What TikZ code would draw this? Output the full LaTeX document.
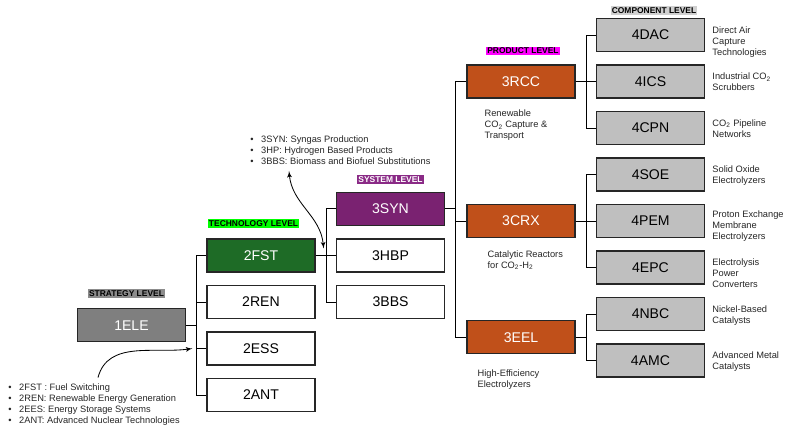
\documentclass[tikz,border=0pt]{standalone}
\usepackage{fontspec}
\setmainfont{Liberation Sans}
\usetikzlibrary{arrows,positioning,calc}

\definecolor{elegray}{HTML}{7F7F7F}
\definecolor{fstgreen}{HTML}{1E6B26}
\definecolor{synpurple}{HTML}{7A2271}
\definecolor{prodorange}{HTML}{C0501A}
\definecolor{compgray}{HTML}{BFBFBF}
\definecolor{stratlbl}{HTML}{8C8C8C}
\definecolor{techlbl}{HTML}{00FF00}
\definecolor{syslbl}{HTML}{8A2A86}
\definecolor{prodlbl}{HTML}{FF00FF}
\definecolor{complbl}{HTML}{D0D0D0}

\tikzset{
  basebox/.style={draw=black!85,line width=0.9pt,minimum width=27mm,
    minimum height=8.25mm,inner sep=0pt,font=\fontsize{10}{12}\selectfont},
  elebox/.style={basebox,fill=elegray,text=white},
  techbox/.style={basebox,fill=white},
  prodbox/.style={basebox,fill=prodorange,text=white},
  compbox/.style={basebox,fill=compgray},
  lvl/.style={font=\fontsize{6}{7}\selectfont\bfseries,inner sep=0.9pt},
  desc/.style={font=\fontsize{6.6}{7.8}\selectfont,align=left,inner sep=0pt,
    anchor=north west,text=black!85},
  link/.style={draw,line width=0.7pt}
}
\newcommand{\bul}{\makebox[7.8pt][l]{\textbullet}}

\begin{document}
\begin{tikzpicture}[x=0.025cm,y=-0.025cm,>=latex',node distance=1.1625cm and 3.2375cm,on grid]
  \useasboundingbox (0,0) rectangle (800,431);
  % strategy level
  \node[elebox] (ele) at (131.5,325.25) {1ELE};
  % technology level
  \node[techbox,fill=fstgreen,text=white] (fst) at (261,255.5) {2FST};
  \node[techbox] (ren) [below=of fst] {2REN};
  \node[techbox] (ess) [below=of ren] {2ESS};
  \node[techbox] (ant) [below=of ess] {2ANT};
  % system level
  \node[techbox] (hbp) [right=of fst] {3HBP};
  \node[techbox,fill=synpurple,text=white] (syn) [above=of hbp] {3SYN};
  \node[techbox] (bbs) [below=of hbp] {3BBS};
  % component level
  \node[compbox] (dac) at (650.5,35) {4DAC};
  \node[compbox] (ics) [below=of dac] {4ICS};
  \node[compbox] (cpn) [below=of ics] {4CPN};
  \node[compbox] (soe) [below=of cpn] {4SOE};
  \node[compbox] (pem) [below=of soe] {4PEM};
  \node[compbox] (epc) [below=of pem] {4EPC};
  \node[compbox] (nbc) [below=of epc] {4NBC};
  \node[compbox] (amc) [below=of nbc] {4AMC};
  % product level
  \node[prodbox] (rcc) [left=of ics] {3RCC};
  \node[prodbox] (crx) [left=of pem] {3CRX};
  \node[prodbox] (eel) at ($(nbc)!0.5!(amc)+(-129.5,0)$) {3EEL};

  % tree connectors
  \foreach \c in {fst,ren,ess,ant} \draw[link] (ele.east) -- ++(10.5,0) |- (\c.west);
  \foreach \c in {syn,hbp,bbs} \draw[link] (fst.east) -- ++(10.5,0) |- (\c.west);
  \foreach \c in {rcc,crx,eel} \draw[link] (syn.east) -- ++(10.5,0) |- (\c.west);
  \foreach \c in {dac,ics,cpn} \draw[link] (rcc.east) -- ++(10.5,0) |- (\c.west);
  \foreach \c in {soe,pem,epc} \draw[link] (crx.east) -- ++(10.5,0) |- (\c.west);
  \foreach \c in {nbc,amc} \draw[link] (eel.east) -- ++(10.5,0) |- (\c.west);

  % level labels
  \node[lvl,fill=stratlbl] (strat-lbl) at ($(ele.north)+(-5,-14.5)$) {STRATEGY LEVEL};
  \node[lvl,fill=techlbl] (tech-lbl) at ($(fst.north)+(-7.5,-15)$) {TECHNOLOGY LEVEL};
  \node[lvl,fill=syslbl,text=white] (sys-lbl) at ($(syn.north)+(0,-12.5)$) {SYSTEM LEVEL};
  \node[lvl,fill=prodlbl] (prod-lbl) at ($(rcc.north)+(2,-13.5)$) {PRODUCT LEVEL};
  \node[lvl,fill=complbl] (comp-lbl) at ($(dac.north)+(3.5,-7.5)$) {COMPONENT LEVEL};

  % component descriptions
  \node[desc] (dac-txt) at ($(dac.north east)+(7,8.5)$) {Direct Air\\Capture\\Technologies};
  \node[desc] (ics-txt) at ($(ics.north east)+(7,8.5)$) {Industrial CO\textsubscript{2}\\Scrubbers};
  \node[desc] (cpn-txt) at ($(cpn.north east)+(7,8.5)$) {CO\textsubscript{2} Pipeline\\Networks};
  \node[desc] (soe-txt) at ($(soe.north east)+(7,8.5)$) {Solid Oxide\\Electrolyzers};
  \node[desc] (pem-txt) at ($(pem.north east)+(7,7)$) {Proton Exchange\\Membrane\\Electrolyzers};
  \node[desc] (epc-txt) at ($(epc.north east)+(7,8)$) {Electrolysis\\Power\\Converters};
  \node[desc] (nbc-txt) at ($(nbc.north east)+(7,8.5)$) {Nickel-Based\\Catalysts};
  \node[desc] (amc-txt) at ($(amc.north east)+(7,8.5)$) {Advanced Metal\\Catalysts};
  % product descriptions
  \node[desc] (rcc-txt) at ($(rcc.south west)+(18,11)$) {Renewable\\CO\textsubscript{2} Capture \&\\Transport};
  \node[desc] (crx-txt) at ($(crx.south west)+(21,12)$) {Catalytic Reactors\\for CO\textsubscript{2}-H\textsubscript{2}};
  \node[desc] (eel-txt) at ($(eel.south west)+(11,15)$) {High-Efficiency\\Electrolyzers};

  % notes
  \node[desc] (sys-note) at (250,135.5) {\bul 3SYN: Syngas Production\\\bul 3HP: Hydrogen Based Products\\\bul 3BBS: Biomass and Biofuel Substitutions};
  \node[desc] (tech-note) at (8,383.5) {\bul 2FST : Fuel Switching\\\bul 2REN: Renewable Energy Generation\\\bul 2EES: Energy Storage Systems\\\bul 2ANT: Advanced Nuclear Technologies};
  \coordinate (sys-from) at (289,171);
  \coordinate (fst-jn) at ($(fst.east)+(8,-7)$);
  \coordinate (tech-from) at (98,377.5);
  \coordinate (ess-jn) at ($(ess.west)+(-14,0)$);
  \draw[<->,line width=0.6pt] (sys-from) to[out=-85,in=95] (fst-jn);
  \draw[->,line width=0.6pt] (tech-from) to[out=75,in=188] (ess-jn);
\end{tikzpicture}
\end{document}
